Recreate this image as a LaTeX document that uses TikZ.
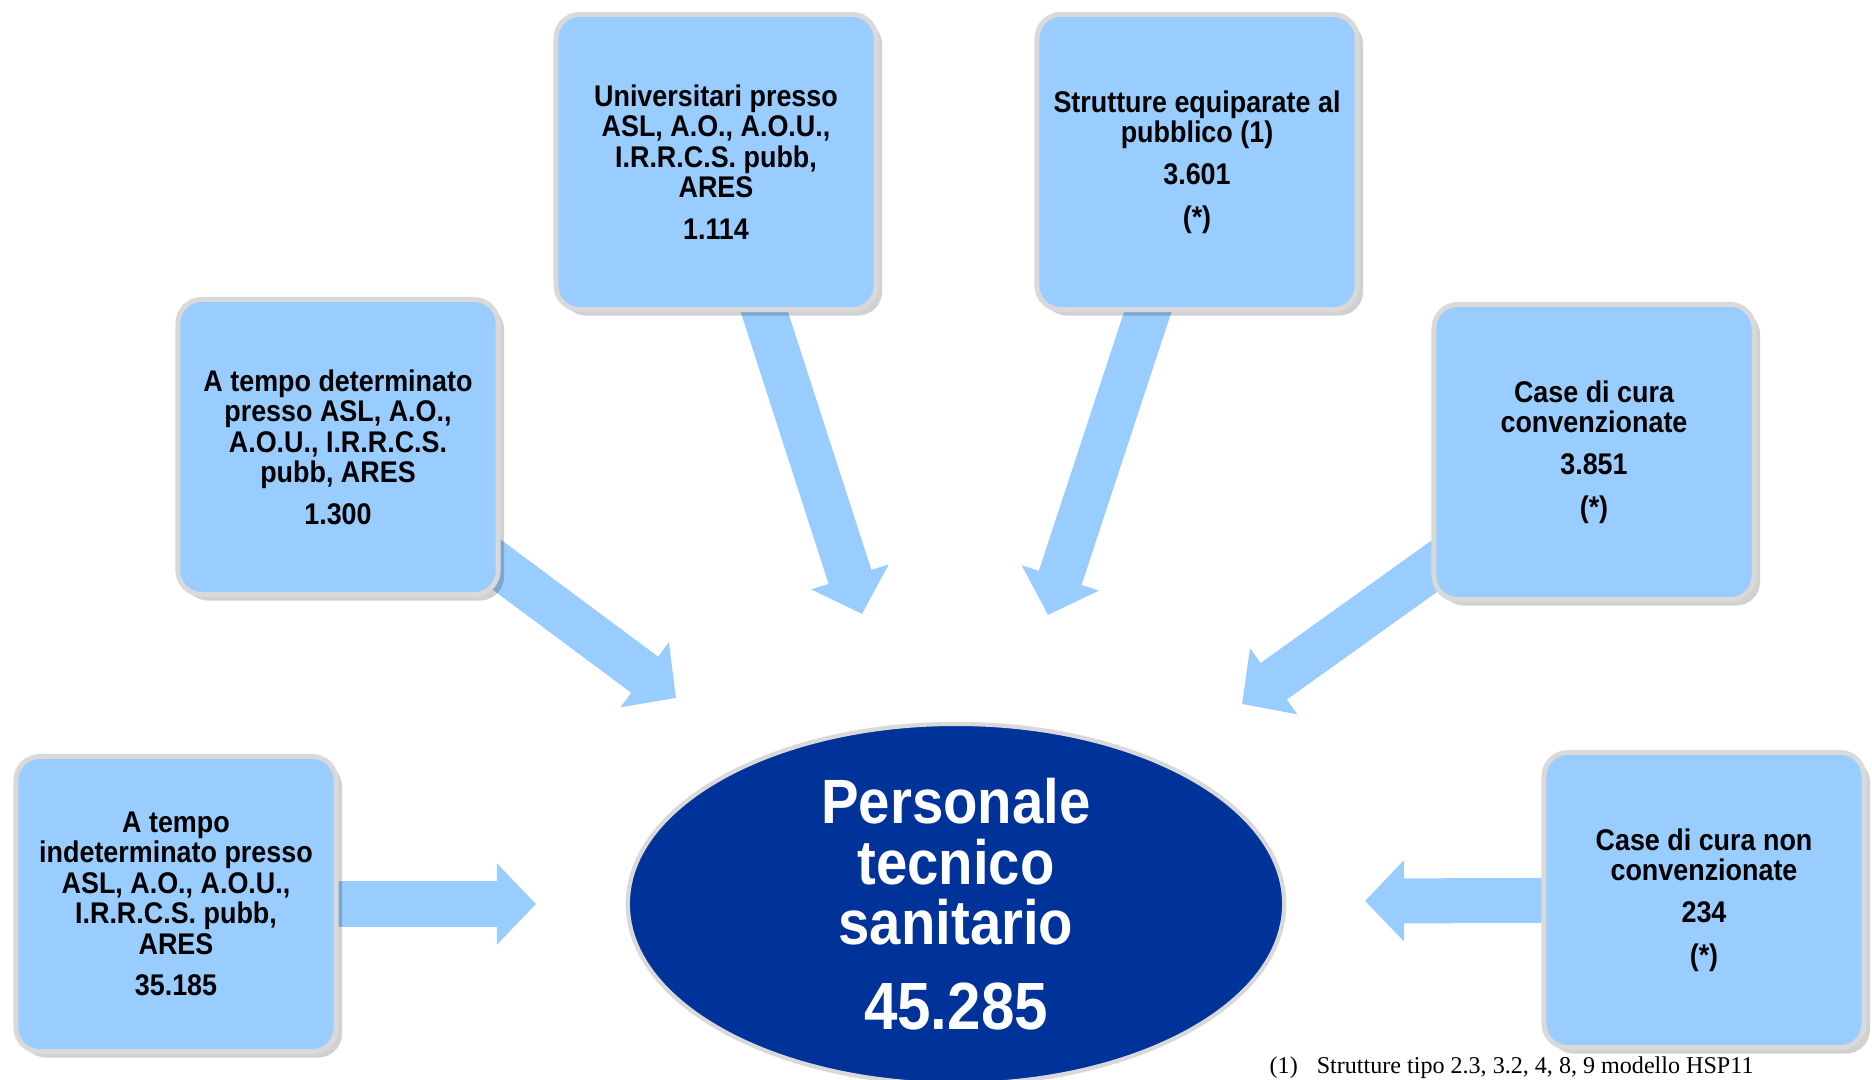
\documentclass[tikz,border=0pt]{standalone}
\usepackage{fontspec}
\usetikzlibrary{arrows.meta,shapes.geometric,shadows}
\newfontfamily\arialfont{Liberation Sans}[FakeStretch=0.9]
\newfontfamily\timesfont{Liberation Serif}
\definecolor{boxblue}{HTML}{99CCFF}
\definecolor{arrowblue}{HTML}{99CCFF}
\definecolor{darkblue}{HTML}{003399}
\definecolor{rimgray}{HTML}{D9D9D9}
\pgfdeclarelayer{background}
\pgfsetlayers{background,main}

\begin{document}
\begin{tikzpicture}[x=0.01cm, y=-0.01cm,
    voce/.style={rectangle, rounded corners=2.4mm, fill=boxblue, draw=rimgray, line width=1.4pt,
      minimum width=3.2cm, minimum height=2.95cm, align=center, inner sep=1mm,
      font=\arialfont\bfseries\fontsize{8.5}{8.65}\selectfont,
      drop shadow={shadow xshift=0.6mm, shadow yshift=-0.6mm, opacity=0.18, fill=black}},
    totale/.style={ellipse, fill=darkblue, draw=rimgray, line width=1.2pt,
      minimum width=6.56cm, minimum height=3.6cm, align=center, text=white, inner sep=0pt,
      font=\arialfont\bfseries\fontsize{17.8}{17.2}\selectfont},
    freccia/.style={draw=arrowblue, line width=4.5mm, -{Triangle[length=3.9mm, width=7.9mm]}, shorten <=-12mm}]
    \useasboundingbox (0,0) rectangle (1872,1080);

    \node[voce] (indet) at (176,904) {A tempo\\indeterminato presso\\ASL, A.O., A.O.U.,\\I.R.R.C.S. pubb,\\ARES\\[3.2pt]35.185};
    \node[voce] (determ) at (338,447) {A tempo determinato\\presso ASL, A.O.,\\A.O.U., I.R.R.C.S.\\pubb, ARES\\[3.2pt]1.300};
    \node[voce] (univ) at (716,162) {Universitari presso\\ASL, A.O., A.O.U.,\\I.R.R.C.S. pubb,\\ARES\\[3.2pt]1.114};
    \node[voce] (equip) at (1197,162) {Strutture equiparate al\\pubblico (1)\\[3.2pt]3.601\\[3.5pt](*)};
    \node[voce] (conv) at (1594,452) {Case di cura\\convenzionate\\[3.2pt]3.851\\[3.5pt](*)};
    \node[voce] (nonconv) at (1704,900) {Case di cura non\\convenzionate\\[3.2pt]234\\[3.5pt](*)};

    \node[totale] (tot) at (956,904) {Personale\\tecnico\\sanitario\\[6.8pt]{\fontsize{19}{20}\selectfont 45.285}};

    \coordinate (pA) at (536,904);
    \coordinate (pB) at (676,698);
    \coordinate (pC) at (862,614);
    \coordinate (pD) at (1048,615);
    \coordinate (pE) at (1242,704);
    \coordinate (pF) at (1365,901);

    \begin{pgfonlayer}{background}
        \draw[freccia] (indet) -- (pA);
        \draw[freccia] (determ) -- (pB);
        \draw[freccia] (univ) -- (pC);
        \draw[freccia] (equip) -- (pD);
        \draw[freccia] (conv) -- (pE);
        \draw[freccia] (nonconv) -- (pF);
    \end{pgfonlayer}

    \node[anchor=base west, inner sep=0pt, font=\timesfont\fontsize{6.85}{8}\selectfont] (nota) at (1269,1074) {(1)\hspace{5.4pt}Strutture tipo 2.3, 3.2, 4, 8, 9 modello HSP11};
\end{tikzpicture}
\end{document}
